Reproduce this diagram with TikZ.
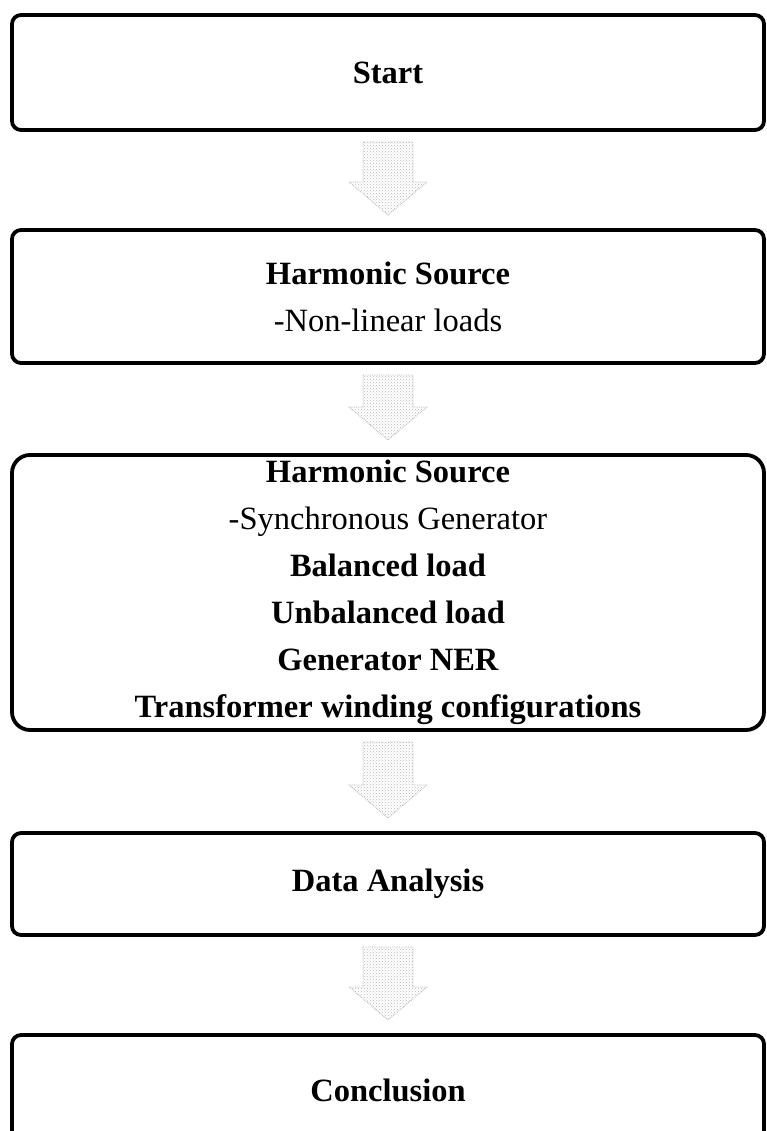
\documentclass[tikz,border=0pt]{standalone}
\usepackage{fontspec}
\setmainfont{Liberation Serif}
\usetikzlibrary{positioning,calc,patterns}

\begin{document}
\begin{tikzpicture}[x=1pt, y=1pt,
        stagebox/.style={rectangle, rounded corners=9pt, draw=black, line width=3.8pt, minimum width=752pt, outer sep=0pt, align=center, font=\fontsize{32.5}{47}\selectfont},
        flowarrow/.style={draw=gray!55, densely dotted, line width=0.8pt, pattern=crosshatch dots, pattern color=gray!55,
            to path={let \p1=(\tikztostart.south), \p2=(\tikztotarget.north) in
                (\x1-25,\y1-12) -- (\x1+25,\y1-12) -- (\x1+25,\y2+48) -- (\x1+39,\y2+48) -- (\x1,\y2+15) -- (\x1-39,\y2+48) -- (\x1-25,\y2+48) -- cycle}},
        node distance=100pt
        ]
        \useasboundingbox (0,0) rectangle (766,-1131);
        \clip (0,0) rectangle (766,-1131);
        \node[stagebox, minimum height=115pt]           (start)                          at (388,-72.5) {\textbf{Start}};
        \node[stagebox, minimum height=133pt]           (harmsrc)  [below        =of start]   {\textbf{Harmonic Source}\\-Non-linear loads};
        \node[stagebox, minimum height=275pt, rounded corners=18pt] (gensrc) [below=92pt of harmsrc] {\textbf{Harmonic Source}\\-Synchronous Generator\\\textbf{Balanced load}\\\textbf{Unbalanced load}\\\textbf{Generator NER}\\\textbf{Transformer winding configurations}};
        \node[stagebox, minimum height=102pt]           (analysis) [below=103pt of gensrc]    {\textbf{Data Analysis}};
        \node[stagebox, minimum height=130pt]           (conclusion) [below      =of analysis] {\raisebox{20pt}{\textbf{Conclusion}}};
        \path
        (start)    edge[flowarrow]  (harmsrc)
        (harmsrc)  edge[flowarrow]  (gensrc)
        (gensrc)   edge[flowarrow]  (analysis)
        (analysis) edge[flowarrow]  (conclusion);
    \end{tikzpicture}
\end{document}
